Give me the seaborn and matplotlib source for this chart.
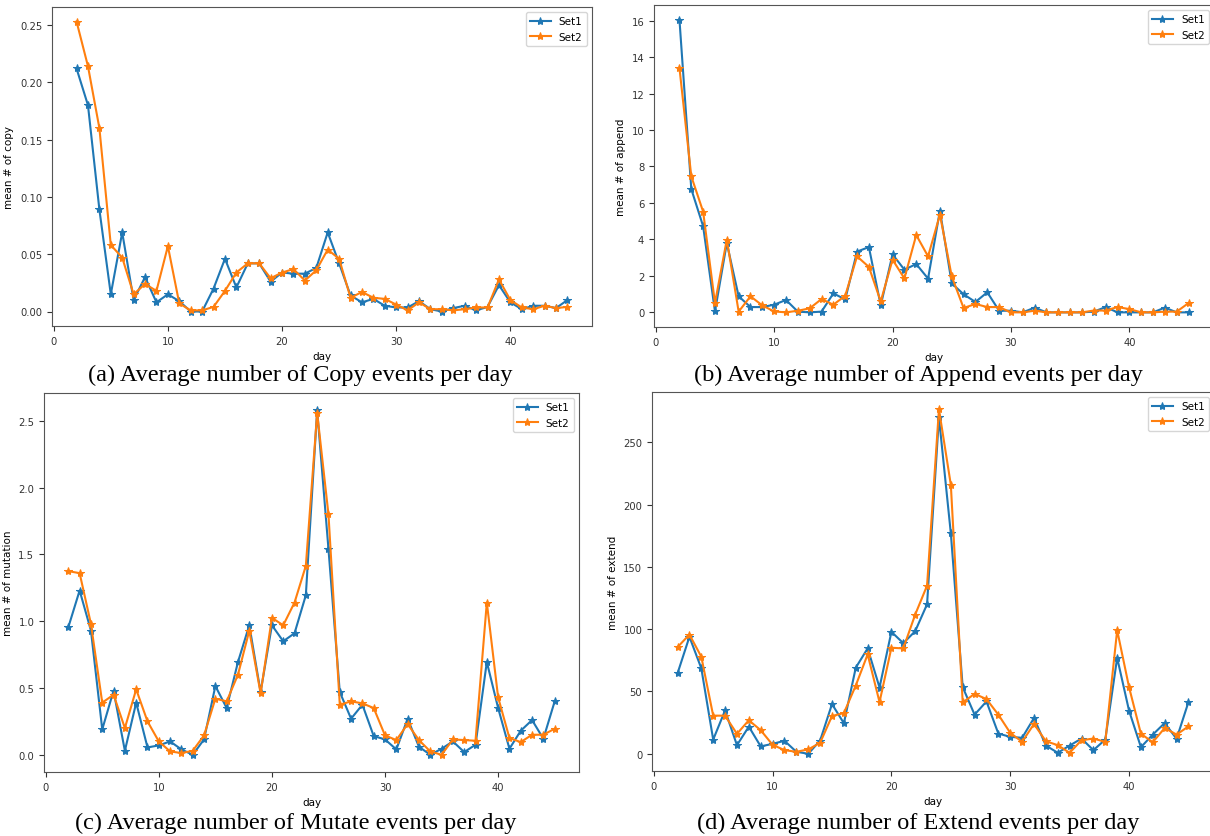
import numpy as np
import pandas as pd
import matplotlib
matplotlib.use("Agg")
import matplotlib.pyplot as plt
import seaborn as sns

days = list(range(2, 46))

copy_set1 = [0.212, 0.180, 0.089, 0.015, 0.069, 0.010, 0.030, 0.008, 0.015, 0.009,
             0.000, 0.000, 0.020, 0.046, 0.021, 0.042, 0.042, 0.026, 0.034, 0.033,
             0.033, 0.038, 0.069, 0.042, 0.014, 0.008, 0.011, 0.005, 0.0035, 0.0035,
             0.009, 0.002, 0.000, 0.003, 0.005, 0.001, 0.004, 0.023, 0.008, 0.002,
             0.005, 0.005, 0.003, 0.010]
copy_set2 = [0.253, 0.214, 0.160, 0.058, 0.047, 0.015, 0.024, 0.018, 0.057, 0.007,
             0.001, 0.001, 0.004, 0.018, 0.034, 0.042, 0.042, 0.029, 0.034, 0.037,
             0.027, 0.036, 0.054, 0.046, 0.012, 0.017, 0.012, 0.011, 0.006, 0.001,
             0.008, 0.002, 0.002, 0.001, 0.002, 0.0035, 0.0035, 0.028, 0.010, 0.0035,
             0.002, 0.005, 0.003, 0.004]

append_set1 = [16.05, 6.76, 4.72, 0.05, 3.80, 0.88, 0.29, 0.29, 0.42, 0.68,
               0.04, 0.00, 0.04, 1.04, 0.71, 3.33, 3.58, 0.38, 3.18, 2.34,
               2.65, 1.85, 5.58, 1.59, 0.99, 0.57, 1.10, 0.09, 0.09, 0.00,
               0.26, 0.00, 0.00, 0.00, 0.00, 0.04, 0.29, 0.00, 0.00, 0.00,
               0.00, 0.26, 0.00, 0.00]
append_set2 = [13.40, 7.46, 5.52, 0.51, 3.99, 0.04, 0.88, 0.38, 0.05, 0.00,
               0.09, 0.22, 0.73, 0.42, 0.91, 3.07, 2.49, 0.60, 2.89, 1.86,
               4.24, 3.07, 5.36, 1.97, 0.24, 0.46, 0.29, 0.29, 0.00, 0.00,
               0.09, 0.00, 0.00, 0.00, 0.00, 0.10, 0.10, 0.29, 0.18, 0.00,
               0.00, 0.04, 0.04, 0.51]

mutate_set1 = [0.955, 1.23, 0.93, 0.19, 0.48, 0.03, 0.39, 0.055, 0.07, 0.10,
               0.04, 0.00, 0.115, 0.515, 0.35, 0.695, 0.97, 0.47, 0.97, 0.85,
               0.91, 1.195, 2.58, 1.54, 0.47, 0.27, 0.375, 0.14, 0.115, 0.04,
               0.27, 0.06, 0.00, 0.045, 0.10, 0.02, 0.075, 0.695, 0.35, 0.045,
               0.18, 0.26, 0.12, 0.40]
mutate_set2 = [1.375, 1.36, 0.98, 0.39, 0.45, 0.20, 0.49, 0.25, 0.10, 0.025,
               0.013, 0.03, 0.145, 0.42, 0.40, 0.60, 0.93, 0.46, 1.025, 0.97,
               1.14, 1.415, 2.56, 1.80, 0.375, 0.40, 0.385, 0.35, 0.145, 0.11,
               0.23, 0.11, 0.025, 0.00, 0.115, 0.11, 0.105, 1.14, 0.43, 0.125,
               0.095, 0.15, 0.15, 0.195]

extend_set1 = [64.6, 93.9, 68.6, 11.4, 34.8, 6.9, 21.8, 5.9, 8.0, 10.4,
               1.6, 0.0, 10.6, 39.9, 24.5, 69.1, 84.6, 53.2, 97.9, 88.8,
               98.4, 120.0, 270.0, 177.0, 53.5, 31.4, 42.0, 16.2, 13.6, 12.8,
               28.7, 6.6, 0.8, 6.6, 12.2, 2.9, 11.4, 77.0, 34.6, 5.3,
               15.4, 24.7, 12.0, 41.5]
extend_set2 = [85.6, 95.7, 77.9, 30.6, 30.6, 16.0, 26.9, 18.9, 7.2, 2.9,
               1.6, 3.5, 8.8, 30.3, 32.7, 54.8, 79.8, 41.5, 85.1, 84.6,
               111.7, 135.0, 276.6, 216.0, 41.2, 48.1, 43.9, 31.4, 16.8, 9.6,
               23.9, 10.1, 6.9, 0.8, 10.9, 12.2, 9.6, 99.2, 53.5, 16.0,
               9.3, 20.7, 15.4, 22.0]

ylabels = ["mean # of copy", "mean # of append", "mean # of mutation", "mean # of extend"]
captions = ["(a) Average number of Copy events per day",
            "(b) Average number of Append events per day",
            "(c) Average number of Mutate events per day",
            "(d) Average number of Extend events per day"]
series_names = ["Set1", "Set2"]

W, H = 1210, 837
fig = plt.figure(figsize=(W / 100, H / 100), dpi=100)

# axes boxes in pixels: left, right, top, bottom
boxes = [(52, 592, 8, 327), (654, 1214, 6, 328), (44, 579, 394, 773), (652, 1214, 393, 772)]
caption_pos = [(300, 375), (918, 375), (296, 823), (918, 823)]
data_pairs = [(copy_set1, copy_set2), (append_set1, append_set2),
              (mutate_set1, mutate_set2), (extend_set1, extend_set2)]
colors = ["#1f77b4", "#ff7f0e"]

for i, (box, (s1, s2)) in enumerate(zip(boxes, data_pairs)):
    l, r, t, b = box
    ax = fig.add_axes([l / W, (H - b) / H, (r - l) / W, (b - t) / H])
    df = pd.DataFrame({"day": days * 2, "value": s1 + s2,
                       "set": [series_names[0]] * len(days) + [series_names[1]] * len(days)})
    sns.lineplot(data=df, x="day", y="value", hue="set", palette=colors,
                 marker="*", markersize=6, linewidth=1.5,
                 ax=ax, legend=True)
    for line in ax.get_lines():
        line.set_markeredgecolor(line.get_color())
        line.set_markerfacecolor(line.get_color())
    ax.set_xlabel("day", fontsize=7.5)
    ax.set_ylabel(ylabels[i], fontsize=7.5)
    ax.tick_params(labelsize=7.2, colors="#333333")
    ax.set_xticks([0, 10, 20, 30, 40])
    for sp in ax.spines.values():
        sp.set_color("#555555")
    leg = ax.legend(loc="upper right", fontsize=7.5, title=None)
    for h in leg.get_lines():
        h.set_markeredgecolor(h.get_color())
        h.set_markerfacecolor(h.get_color())
    cx, cy = caption_pos[i]
    fig.text(cx / W, (H - cy) / H, captions[i], ha="center", va="center",
             fontsize=17.5, family="Liberation Serif")

fig.savefig("out.png", dpi=100)
